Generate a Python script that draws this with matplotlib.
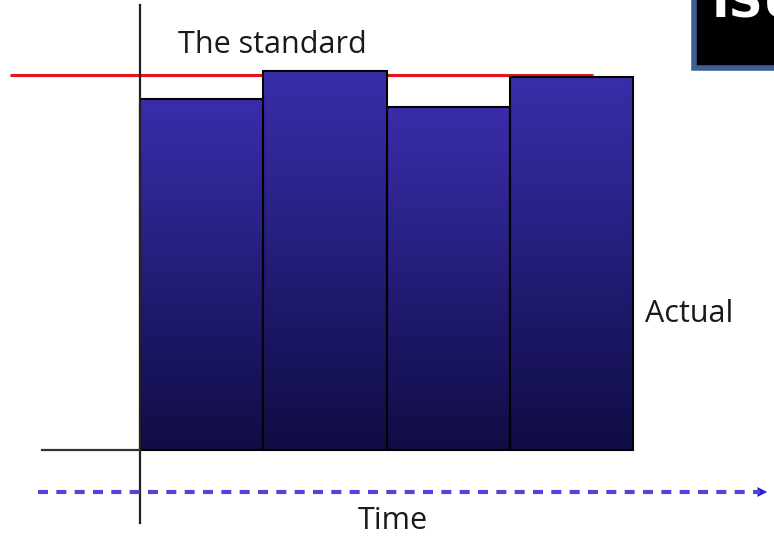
import numpy as np
import matplotlib.pyplot as plt
from matplotlib.colors import LinearSegmentedColormap
from matplotlib.patches import Rectangle

# data
periods = [1, 2, 3, 4]
actual = [93.6, 101.1, 91.5, 99.5]
standard = 100

W, H = 774, 541
fig = plt.figure(figsize=(W / 100, H / 100), dpi=100)
ax = fig.add_axes([0, 0, 1, 1])
ax.axis('off')

def px(x, y):
    # figure pixel (from top-left) -> figure fraction
    return x / W, 1 - y / H

grad_cmap = LinearSegmentedColormap.from_list(
    'bar', ['#100d44', '#1c1766', '#2b238a', '#3a2daa'])
grad = np.linspace(0, 1, 256).reshape(-1, 1)

bars = ax.bar(periods, actual, width=1.0, color='none', edgecolor='black',
              linewidth=1.5, zorder=3)
for b in bars:
    x0, w, h = b.get_x(), b.get_width(), b.get_height()
    im = ax.imshow(grad, cmap=grad_cmap, origin='lower', aspect='auto',
                   extent=(x0, x0 + w, 0, h), zorder=2)
    im.set_clip_path(b)
ax.set_xlim(0.5 - 140 / 123.25, 0.5 + (W - 140) / 123.25)
ax.set_ylim(-(H - 450) / 3.75, 450 / 3.75)

# standard line
ax.hlines(standard, 0.5 - 130 / 123.25, 0.5 + (593 - 140) / 123.25,
          color='#e8141c', linewidth=2.2, zorder=1)

# axes lines
fig.add_artist(plt.Line2D(*zip(px(140, 5), px(140, 523)), color='#222222', lw=1.6))
fig.add_artist(plt.Line2D(*zip(px(42, 450), px(140, 450)), color='#333333', lw=1.6))

# dashed time arrow
fig.add_artist(plt.Line2D(*zip(px(38, 492), px(760, 492)), color='#5246d4', lw=3,
                          linestyle=(0, (2.4, 2.0))))
ax.annotate('', xy=px(770, 492), xytext=px(757, 492), xycoords='figure fraction',
            arrowprops=dict(arrowstyle='-|>,head_length=0.7,head_width=0.35',
                            color='#2a1ee0', lw=0))

font = 'Open Sans'
fig.text(*px(272, 45), 'The standard', fontsize=22, family=font,
         ha='center', va='center', color='#1a1a1a')
fig.text(*px(393, 521), 'Time', fontsize=22, family=font,
         ha='center', va='center', color='#1a1a1a')
fig.text(*px(645, 314), 'Actual', fontsize=22, family=font,
         ha='left', va='center', color='#1a1a1a')

# title box in top-right corner
box = Rectangle(px(694, 68), 200 / W, 120 / H, transform=fig.transFigure,
                facecolor='black', edgecolor='#3d5f95', linewidth=4)
fig.add_artist(box)
fig.text(*px(712, 17), 'ISU', fontsize=34, fontweight='bold', color='white',
         family='DejaVu Sans', ha='left', va='baseline')

fig.savefig('out.png', dpi=100)
